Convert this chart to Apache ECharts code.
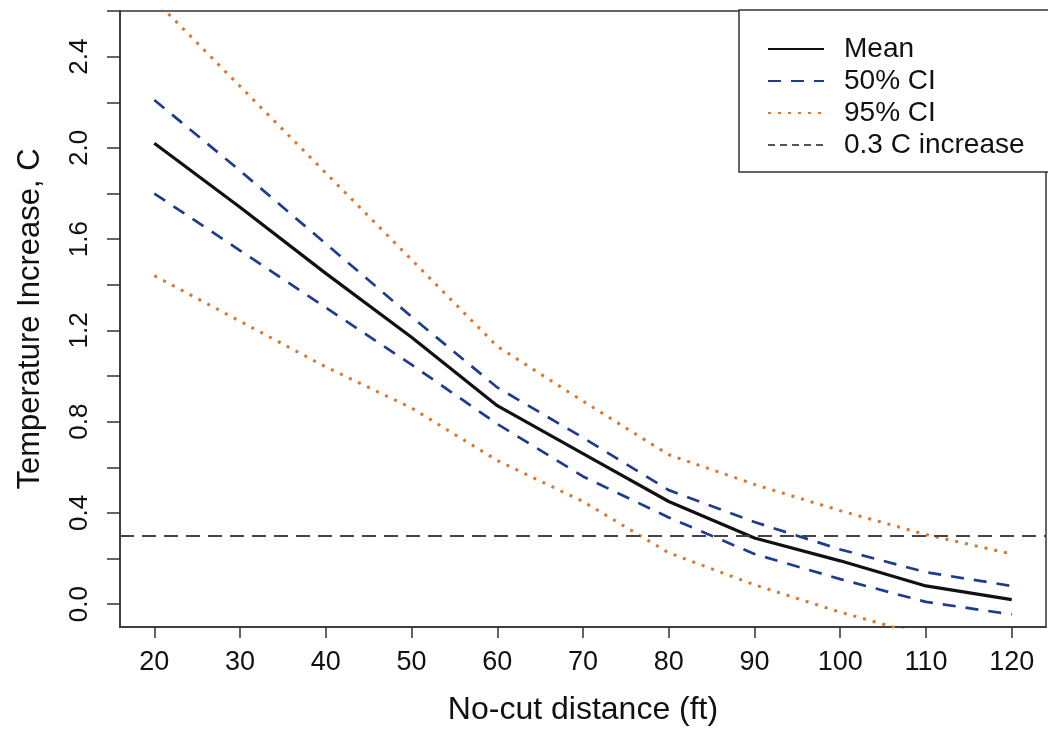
<!DOCTYPE html>
<html>
<head>
<meta charset="utf-8">
<script src="https://cdn.jsdelivr.net/npm/echarts@6/dist/echarts.min.js"></script>
<style>
html,body{margin:0;padding:0;background:#fff;}
#chart{width:1048px;height:731px;}
</style>
</head>
<body>
<div id="chart"></div>
<script>
// ---- data ----
var distances = [20, 30, 40, 50, 60, 70, 80, 90, 100, 110, 120];
var meanValues = [2.02, 1.74, 1.45, 1.17, 0.87, 0.66, 0.45, 0.29, 0.19, 0.08, 0.02];
var ci50Upper = [2.21, 1.90, 1.58, 1.26, 0.95, 0.73, 0.50, 0.36, 0.24, 0.14, 0.08];
var ci50Lower = [1.80, 1.55, 1.30, 1.05, 0.79, 0.56, 0.38, 0.22, 0.11, 0.01, -0.045];
var ci95Upper = [2.65, 2.27, 1.89, 1.51, 1.13, 0.89, 0.655, 0.525, 0.41, 0.305, 0.22];
var ci95Lower = [1.44, 1.24, 1.04, 0.86, 0.63, 0.45, 0.225, 0.085, -0.035, -0.14, -0.24];
var thresholdValue = 0.3;
var xTickValues = [20, 30, 40, 50, 60, 70, 80, 90, 100, 110, 120];
var yTickValues = [0, 0.2, 0.4, 0.6, 0.8, 1.0, 1.2, 1.4, 1.6, 1.8, 2.0, 2.2, 2.4, 2.6];
var yLabelValues = [0, 0.4, 0.8, 1.2, 1.6, 2.0, 2.4];
var legendNames = ['Mean', '50% CI', '95% CI', '0.3 C increase'];

function pairs(vals) {
  return distances.map(function (d, i) { return [d, vals[i]]; });
}

var FONT = "'Liberation Sans', Arial, Helvetica, sans-serif";
var BLUE = '#1d3c8f';
var ORANGE = '#d9772e';
var AXIS = '#333333';

var chart = echarts.init(document.getElementById('chart'), null, {renderer: 'canvas'});

var option = {
  backgroundColor: '#ffffff',
  animation: false,
  grid: {
    left: 120, right: 2, top: 11, bottom: 101,
    show: true, borderColor: AXIS, borderWidth: 1.5, backgroundColor: 'transparent'
  },
  xAxis: {
    type: 'value', min: 16, max: 124,
    name: 'No-cut distance (ft)', nameLocation: 'middle', nameGap: 67,
    nameTextStyle: {fontFamily: FONT, fontSize: 32, color: '#111'},
    axisLine: {show: true, onZero: false, lineStyle: {color: AXIS, width: 1.5}},
    axisTick: {show: true, length: 11, customValues: xTickValues, lineStyle: {color: AXIS, width: 1.5}},
    axisLabel: {customValues: xTickValues, margin: 22, fontFamily: FONT, fontSize: 27, color: '#111'},
    splitLine: {show: false}
  },
  yAxis: {
    type: 'value', min: -0.1, max: 2.6,
    name: 'Temperature Increase, C', nameLocation: 'middle', nameGap: 74, nameRotate: 90,
    nameTextStyle: {fontFamily: FONT, fontSize: 31, color: '#111'},
    axisLine: {show: true, onZero: false, lineStyle: {color: AXIS, width: 1.5}},
    axisTick: {show: true, length: 13, customValues: yTickValues, lineStyle: {color: AXIS, width: 1.5}},
    axisLabel: {
      customValues: yLabelValues, rotate: 90, margin: 27,
      fontFamily: FONT, fontSize: 26, color: '#111',
      formatter: function (v) { return Number(v).toFixed(1); }
    },
    splitLine: {show: false}
  },
  legend: {
    show: true, orient: 'vertical', left: 762, top: 30, z: 20,
    data: legendNames,
    itemWidth: 56, itemHeight: 20, itemGap: 4,
    itemStyle: {opacity: 0},
    textStyle: {fontFamily: FONT, fontSize: 28, color: '#111', lineHeight: 28, padding: [0, 0, 0, 15]},
    selectedMode: false
  },
  graphic: [{
    type: 'rect', z: 0, silent: true,
    shape: {x: 739, y: 10, width: 312, height: 162},
    style: {fill: '#ffffff', stroke: AXIS, lineWidth: 1.5}
  }],
  series: [
    {
      name: '95% CI', type: 'line', data: pairs(ci95Upper), symbol: 'none', clip: true,
      lineStyle: {color: ORANGE, width: 3, type: [3, 7]}, itemStyle: {color: ORANGE}, z: 2
    },
    {
      name: '95% CI', type: 'line', data: pairs(ci95Lower), symbol: 'none', clip: true,
      lineStyle: {color: ORANGE, width: 3, type: [3, 7]}, itemStyle: {color: ORANGE}, z: 2
    },
    {
      name: '50% CI', type: 'line', data: pairs(ci50Upper), symbol: 'none', clip: true,
      lineStyle: {color: BLUE, width: 2.7, type: [13, 10]}, itemStyle: {color: BLUE}, z: 3
    },
    {
      name: '50% CI', type: 'line', data: pairs(ci50Lower), symbol: 'none', clip: true,
      lineStyle: {color: BLUE, width: 2.7, type: [13, 10]}, itemStyle: {color: BLUE}, z: 3
    },
    {
      name: 'Mean', type: 'line', data: pairs(meanValues), symbol: 'none', clip: true,
      lineStyle: {color: '#111111', width: 3.2, type: 'solid'}, itemStyle: {color: '#111111'}, z: 4
    },
    {
      name: '0.3 C increase', type: 'line', data: [], symbol: 'none',
      lineStyle: {color: '#555555', width: 2, type: [7, 5]}, itemStyle: {color: '#444444'}, z: 1,
      markLine: {
        silent: true, symbol: ['none', 'none'], label: {show: false},
        lineStyle: {color: '#444444', width: 2, type: [14, 8]},
        data: [{yAxis: thresholdValue}]
      }
    }
  ]
};
chart.setOption(option);
</script>
</body>
</html>
